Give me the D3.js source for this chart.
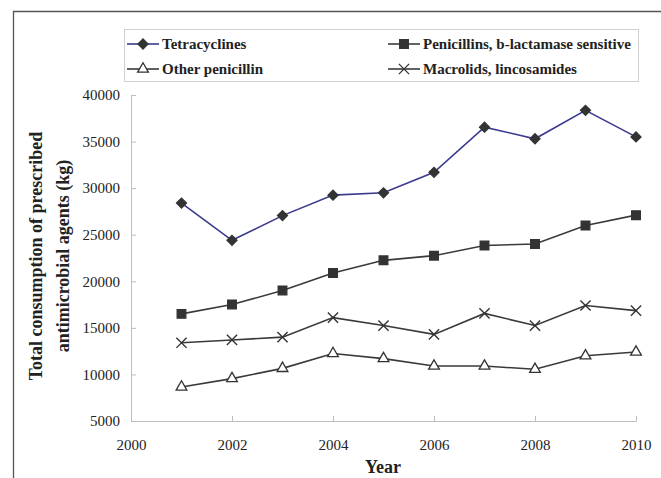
<!DOCTYPE html>
<html>
<head>
<meta charset="utf-8">
<script src="https://cdn.jsdelivr.net/npm/d3@7"></script>
<style>
  html, body { margin: 0; padding: 0; background: #fff; }
  svg { display: block; }
  text { font-family: "Liberation Serif", "Times New Roman", serif; fill: #222; }
</style>
</head>
<body>
<script>
const years = [2001, 2002, 2003, 2004, 2005, 2006, 2007, 2008, 2009, 2010];
const tetracyclines = [28400, 24400, 27050, 29250, 29500, 31700, 36550, 35300, 38350, 35500];
const penicillinsBLS = [16500, 17500, 19000, 20900, 22250, 22750, 23850, 24000, 26000, 27100];
const macrolids = [13400, 13700, 14000, 16100, 15250, 14300, 16550, 15250, 17400, 16850];
const otherPenicillin = [8650, 9550, 10650, 12250, 11700, 10900, 10900, 10550, 12000, 12400];
const xTicks = [2000, 2002, 2004, 2006, 2008, 2010];
const yTicks = [5000, 10000, 15000, 20000, 25000, 30000, 35000, 40000];
const seriesNames = ["Tetracyclines", "Penicillins, b-lactamase sensitive", "Other penicillin", "Macrolids, lincosamides"];

const W = 661, H = 478;
const svg = d3.select("body").append("svg").attr("width", W).attr("height", H);

// frame
svg.append("path").attr("d", `M13.5,${H} L13.5,11.5 L${W},11.5`)
  .attr("fill", "none").attr("stroke", "#555").attr("stroke-width", 1.3);

const x = d3.scaleLinear().domain([2000, 2010]).range([131, 636]);
const y = d3.scaleLinear().domain([5000, 40000]).range([421, 95]);

const axisColor = "#bdbdbd";
const gx = svg.append("g").attr("transform", `translate(0,${y(5000)})`)
  .call(d3.axisBottom(x).tickValues(xTicks).tickSize(-5).tickPadding(18).tickFormat(d3.format("d")));
const gy = svg.append("g").attr("transform", `translate(${x(2000)},0)`)
  .call(d3.axisLeft(y).tickValues(yTicks).tickSize(-5).tickPadding(11).tickFormat(d3.format("d")));
[gx, gy].forEach(g => {
  g.attr("font-family", null);
  g.selectAll("path, line").attr("stroke", axisColor).attr("stroke-width", 1);
  g.selectAll("text").attr("font-size", 15).attr("fill", "#222");
});

// axis titles
svg.append("text").attr("x", 383).attr("y", 473).attr("text-anchor", "middle")
  .attr("font-weight", "bold").attr("font-size", 18).text("Year");
const yt = svg.append("text").attr("transform", "translate(0,256) rotate(-90)")
  .attr("text-anchor", "middle").attr("font-weight", "bold").attr("font-size", 18);
yt.append("tspan").attr("x", 0).attr("y", 42).text("Total consumption of prescribed");
yt.append("tspan").attr("x", 0).attr("y", 69).text("antimicrobial agents (kg)");

// series
const series = [
  { name: seriesNames[0], values: tetracyclines, color: "#3a3a8e", symbol: d3.symbolSquare, rot: 45, size: 50, fill: "#333", stroke: "#333" },
  { name: seriesNames[1], values: penicillinsBLS, color: "#3a3a3a", symbol: d3.symbolSquare, rot: 0, size: 75, fill: "#333", stroke: "#333" },
  { name: seriesNames[2], values: otherPenicillin, color: "#3a3a3a", symbol: d3.symbolTriangle, rot: 0, size: 50, fill: "#fff", stroke: "#333" },
  { name: seriesNames[3], values: macrolids, color: "#3a3a3a", symbol: d3.symbolX, rot: 0, size: 70, fill: "none", stroke: "#333" }
];

const line = d3.line().x(d => x(d[0])).y(d => y(d[1]));
series.forEach(s => {
  const pts = years.map((yr, i) => [yr, s.values[i]]);
  svg.append("path").datum(pts).attr("d", line)
    .attr("fill", "none").attr("stroke", s.color).attr("stroke-width", 1.6);
  svg.selectAll(null).data(pts).enter().append("path")
    .attr("d", d3.symbol().type(s.symbol).size(s.size))
    .attr("transform", d => `translate(${x(d[0])},${y(d[1])}) rotate(${s.rot})`)
    .attr("fill", s.fill).attr("stroke", s.stroke).attr("stroke-width", s.symbol === d3.symbolX ? 1.4 : 1.3);
});

// legend
svg.append("rect").attr("x", 124.5).attr("y", 29.5).attr("width", 514).attr("height", 52)
  .attr("fill", "#fff").attr("stroke", "#d0d0d0").attr("stroke-width", 1);
const legendPos = [[127, 44], [388, 44], [127, 69], [388, 69]];
series.forEach((s, i) => {
  const [lx, ly] = legendPos[i];
  const g = svg.append("g").attr("transform", `translate(${lx},${ly})`);
  g.append("line").attr("x1", 0).attr("x2", 32).attr("y1", 0).attr("y2", 0)
    .attr("stroke", s.color).attr("stroke-width", 1.6);
  g.append("path").attr("d", d3.symbol().type(s.symbol).size(s.size))
    .attr("transform", `translate(16,0) rotate(${s.rot})`)
    .attr("fill", s.fill).attr("stroke", s.stroke).attr("stroke-width", 1.3);
  g.append("text").attr("x", 35).attr("y", 0).attr("dy", "0.35em")
    .attr("font-weight", "bold").attr("font-size", 15).text(s.name);
});
</script>
</body>
</html>
